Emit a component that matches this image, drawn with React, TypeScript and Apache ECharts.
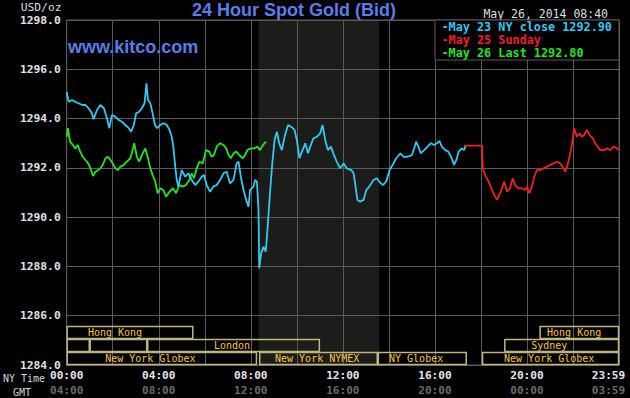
import React, { useEffect, useRef } from 'react';
import * as echarts from 'echarts';

// ---- data ----
const nyTickLabels = ['00:00', '04:00', '08:00', '12:00', '16:00', '20:00', '23:59'];
const gmtTickLabels = ['04:00', '08:00', '12:00', '16:00', '20:00', '00:00', '03:59'];
const yMin = 1284;
const yMax = 1298;

// [minute of NY day, price]
const may23Close: number[][] = [
  [0, 1295.08], [5, 1294.68], [14, 1294.75], [22, 1294.68], [31, 1294.62], [40, 1294.55], [49, 1294.55], [57, 1294.42],
  [66, 1294.21], [70, 1293.97], [79, 1294.35], [88, 1294.55], [97, 1294.42], [105, 1294.01], [111, 1293.61], [118, 1294.14],
  [127, 1294.08], [136, 1293.94], [144, 1293.87], [153, 1293.74], [162, 1293.61], [168, 1293.47], [175, 1293.74], [181, 1294.21],
  [189, 1294.28], [196, 1294.42], [203, 1294.62], [208, 1295.43], [212, 1294.75], [218, 1294.62], [224, 1294.21], [230, 1293.74],
  [236, 1293.61], [244, 1293.74], [252, 1293.81], [261, 1293.74], [268, 1293.54], [274, 1293.26], [278, 1292.86], [283, 1292.05],
  [287, 1291.51], [291, 1291.24], [300, 1291.91], [309, 1291.64], [317, 1291.78], [326, 1291.51], [335, 1291.30], [343, 1291.44],
  [352, 1291.64], [358, 1291.71], [365, 1291.30], [374, 1291.03], [382, 1291.24], [391, 1291.30], [400, 1291.51], [409, 1291.78],
  [417, 1291.84], [426, 1291.37], [435, 1291.51], [443, 1292.18], [448, 1292.25], [454, 1291.64], [461, 1291.10], [468, 1290.70],
  [474, 1290.42], [478, 1291.10], [487, 1291.24], [491, 1291.51], [496, 1291.44], [500, 1290.29], [502, 1287.92], [507, 1288.53],
  [513, 1288.80], [519, 1288.60], [524, 1289.61], [530, 1290.97], [536, 1292.18], [542, 1293.13], [548, 1293.47], [554, 1293.00],
  [561, 1292.72], [568, 1293.26], [577, 1293.74], [585, 1293.67], [594, 1293.54], [600, 1293.13], [607, 1292.39], [615, 1292.72],
  [622, 1293.00], [629, 1292.59], [635, 1292.86], [643, 1293.20], [652, 1293.26], [661, 1293.40], [667, 1293.74], [674, 1293.13],
  [681, 1292.72], [689, 1292.86], [695, 1292.59], [704, 1292.25], [713, 1291.98], [722, 1292.18], [730, 1291.98], [742, 1291.91],
  [748, 1291.78], [752, 1291.37], [758, 1290.70], [765, 1290.63], [774, 1290.70], [781, 1291.10], [789, 1291.24], [800, 1291.51],
  [809, 1291.58], [815, 1291.44], [824, 1291.30], [833, 1291.44], [842, 1291.91], [850, 1292.12], [859, 1292.39], [870, 1292.59],
  [878, 1292.45], [889, 1292.45], [900, 1292.52], [906, 1292.79], [911, 1293.06], [917, 1292.86], [923, 1292.59], [932, 1292.72],
  [941, 1292.86], [950, 1293.00], [958, 1292.93], [965, 1293.00], [972, 1293.09], [978, 1292.86], [987, 1292.72], [995, 1292.66],
  [1004, 1292.39], [1010, 1292.12], [1016, 1292.32], [1022, 1292.66], [1030, 1292.79], [1036, 1292.72], [1040, 1292.90],
];

const may25Sunday: number[][] = [
  [1036, 1292.90], [1083, 1292.90], [1085, 1291.98], [1091, 1291.71], [1100, 1291.44], [1109, 1291.10], [1117, 1290.83],
  [1122, 1290.70], [1130, 1290.97], [1141, 1291.44], [1148, 1291.03], [1156, 1291.17], [1163, 1291.58], [1169, 1291.30],
  [1178, 1291.17], [1187, 1291.17], [1196, 1291.10], [1200, 1291.24], [1206, 1290.97], [1213, 1291.24], [1219, 1291.64],
  [1226, 1291.91], [1235, 1291.91], [1243, 1291.98], [1252, 1292.05], [1261, 1292.12], [1269, 1292.18], [1278, 1292.25],
  [1287, 1292.18], [1295, 1291.98], [1300, 1291.84], [1306, 1292.12], [1313, 1292.59], [1319, 1293.13], [1323, 1293.61],
  [1330, 1293.26], [1337, 1293.40], [1343, 1293.26], [1349, 1293.33], [1356, 1293.54], [1363, 1293.33], [1372, 1293.20],
  [1378, 1293.00], [1384, 1292.86], [1391, 1292.72], [1400, 1292.72], [1409, 1292.79], [1417, 1292.72], [1426, 1292.86],
  [1435, 1292.79], [1439, 1292.72],
];

const may26Last: number[][] = [
  [0, 1293.26], [3, 1293.61], [9, 1293.06], [16, 1292.93], [22, 1292.79], [29, 1292.93], [35, 1292.66], [42, 1292.45],
  [49, 1292.32], [56, 1292.18], [62, 1291.98], [69, 1291.67], [75, 1291.84], [82, 1291.91], [88, 1291.98], [94, 1292.12],
  [101, 1292.39], [108, 1292.45], [114, 1292.32], [120, 1292.18], [127, 1291.98], [133, 1291.91], [140, 1292.05], [149, 1292.12],
  [157, 1292.25], [166, 1292.39], [172, 1292.72], [176, 1293.00], [183, 1292.45], [189, 1292.25], [196, 1292.52], [205, 1292.79],
  [212, 1292.39], [218, 1291.98], [224, 1291.71], [231, 1291.44], [237, 1290.97], [244, 1291.17], [252, 1291.10], [259, 1290.83],
  [268, 1291.03], [277, 1291.17], [285, 1290.97], [294, 1291.30], [302, 1291.24], [311, 1291.30], [320, 1291.51], [326, 1291.78],
  [332, 1291.58], [339, 1291.98], [346, 1292.25], [355, 1292.18], [363, 1292.72], [372, 1292.66], [378, 1292.45], [384, 1292.52],
  [391, 1292.86], [400, 1293.00], [409, 1292.93], [416, 1292.79], [422, 1292.52], [428, 1292.39], [435, 1292.59], [442, 1292.66],
  [450, 1292.52], [459, 1292.39], [465, 1292.52], [471, 1292.72], [480, 1292.79], [489, 1292.79], [497, 1292.86], [504, 1292.72],
  [512, 1292.93], [520, 1293.06],
];

const nymexFloor = [500, 815];

const sessionNames = ['Hong Kong', '', '', 'London', 'New York Globex', 'New York NYMEX', 'NY Globex', 'New York Globex', 'Sydney', 'Hong Kong'];
const sessionRows = [0, 1, 1, 1, 2, 2, 2, 2, 1, 0];
const sessionStart = [0, 0, 60, 210, 0, 502, 811, 1083, 1141, 1233];
const sessionEnd = [330, 60, 210, 660, 496, 811, 1043, 1440, 1440, 1440];
const sessionLabelAt = [126, 0, 0, 431, 218, 653, 911, 1258, 1258, 1323];

const legendTexts = ['-May 23 NY close 1292.90', '-May 25 Sunday', '-May 26 Last 1292.80'];
const legendColors = ['#33c8f2', '#ee2020', '#22e422'];

const MONO = '"DejaVu Sans Mono", monospace';
const GRID = '#5a5a5a';

export default function App() {
  const ref = useRef<HTMLDivElement>(null);
  useEffect(() => {
    if (!ref.current) return;
    const chart = echarts.init(ref.current, null, { renderer: 'svg' });
    const rowH = 13;
    const option: any = {
      animation: false,
      backgroundColor: '#000',
      grid: {
        left: 66.7, right: 11, top: 20, bottom: 33, show: true, borderColor: GRID, borderWidth: 1,
        containLabel: false, outerBoundsMode: 'none',
      },
      xAxis: {
        type: 'value', min: 0, max: 1440, interval: 120, z: 3,
        axisLine: { show: true, lineStyle: { color: GRID } },
        axisTick: { show: false },
        splitLine: { show: true, lineStyle: { color: GRID, width: 1 } },
        axisLabel: {
          margin: 3, hideOverlap: false,
          formatter: (v: number) => {
            if (v % 240 !== 0) return '';
            const i = v / 240;
            if (i === 6) return `{c|${nyTickLabels[i]}}\n{d|${gmtTickLabels[i]}}`;
            return `{a|${nyTickLabels[i]}}\n{b|${gmtTickLabels[i]}}`;
          },
          rich: {
            a: { color: '#e6e6e6', fontFamily: MONO, fontWeight: 'bold', fontSize: 11.1, lineHeight: 15 },
            b: { color: '#6a6a6a', fontFamily: MONO, fontWeight: 'bold', fontSize: 11.1, lineHeight: 15 },
            c: { color: '#e6e6e6', fontFamily: MONO, fontWeight: 'bold', fontSize: 11.1, lineHeight: 15, padding: [0, 21, 0, 0] },
            d: { color: '#6a6a6a', fontFamily: MONO, fontWeight: 'bold', fontSize: 11.1, lineHeight: 15, padding: [0, 21, 0, 0] },
          },
        },
      },
      yAxis: {
        type: 'value', min: yMin, max: yMax, interval: 2, z: 3,
        axisLine: { show: true, lineStyle: { color: GRID } },
        axisTick: { show: false },
        splitLine: { show: true, lineStyle: { color: GRID, width: 1 } },
        axisLabel: {
          margin: 6, color: '#e2e2e2', fontFamily: MONO, fontWeight: 'bold', fontSize: 11.3,
          formatter: (v: number) => v.toFixed(1),
        },
      },
      series: [
        {
          type: 'line', data: [], z: 1, silent: true,
          markArea: {
            silent: true,
            itemStyle: { color: '#1c1c1a' },
            data: [[{ xAxis: nymexFloor[0] }, { xAxis: nymexFloor[1] }]],
          },
        },
        {
          name: 'May 26', type: 'line', data: may26Last, z: 4, showSymbol: false, symbol: 'none',
          lineStyle: { color: legendColors[2], width: 1.8 },
        },
        {
          name: 'May 23', type: 'line', data: may23Close, z: 5, showSymbol: false, symbol: 'none',
          lineStyle: { color: legendColors[0], width: 1.8 },
        },
        {
          name: 'May 25', type: 'line', data: may25Sunday, z: 5, showSymbol: false, symbol: 'none',
          lineStyle: { color: legendColors[1], width: 1.8 },
        },
        {
          type: 'custom', z: 6, silent: true, clip: false,
          data: sessionStart.map((s) => [s, yMin]),
          renderItem: (params: any, api: any) => {
            const i = params.dataIndex;
            const a = api.coord([sessionStart[i], yMin]);
            const b = api.coord([sessionEnd[i], yMin]);
            const top = a[1] - (3 - sessionRows[i]) * rowH + 0.5;
            const children: any[] = [
              {
                type: 'rect',
                shape: { x: a[0] + 0.5, y: top, width: b[0] - a[0] - 1, height: rowH - 1 },
                style: { fill: 'none', stroke: '#bdb67f', lineWidth: 1.5 },
              },
            ];
            if (sessionNames[i]) {
              const c = api.coord([sessionLabelAt[i], yMin]);
              children.push({
                type: 'text',
                x: c[0], y: top + (rowH - 1) / 2,
                style: {
                  text: sessionNames[i], fill: '#f6c640', font: `10px ${MONO}`,
                  align: 'center', verticalAlign: 'middle', textAlign: 'center', textVerticalAlign: 'middle',
                },
              });
            }
            return { type: 'group', children };
          },
        },
      ],
      graphic: [
        {
          type: 'text', x: 294, y: 10, z: 10,
          style: { text: '24 Hour Spot Gold (Bid)', fill: '#5a7ee8', font: 'bold 18px "Liberation Sans", Arial, sans-serif', align: 'center', verticalAlign: 'middle', textAlign: 'center', textVerticalAlign: 'middle' },
        },
        {
          type: 'text', x: 68, y: 47, z: 10,
          style: { text: 'www.kitco.com', fill: '#5a7ee8', font: 'bold 18px "Liberation Sans", Arial, sans-serif', align: 'left', verticalAlign: 'middle', textAlign: 'left', textVerticalAlign: 'middle' },
        },
        {
          type: 'text', x: 608, y: 14, z: 10,
          style: { text: 'May 26, 2014 08:40', fill: '#dedede', font: `11.5px ${MONO}`, align: 'right', verticalAlign: 'middle', textAlign: 'right', textVerticalAlign: 'middle' },
        },
        {
          type: 'text', x: 61.5, y: 7, z: 10,
          style: { text: 'USD/oz', fill: '#dedede', font: `11.3px ${MONO}`, align: 'right', verticalAlign: 'middle', textAlign: 'right', textVerticalAlign: 'middle' },
        },
        {
          type: 'text', x: 3, y: 378, z: 10,
          style: { text: 'NY Time', fill: '#d6d6d6', font: `10px ${MONO}`, align: 'left', verticalAlign: 'middle', textAlign: 'left', textVerticalAlign: 'middle' },
        },
        {
          type: 'text', x: 22, y: 392, z: 10,
          style: { text: 'GMT', fill: '#d6d6d6', font: `10px ${MONO}`, align: 'center', verticalAlign: 'middle', textAlign: 'center', textVerticalAlign: 'middle' },
        },
        {
          type: 'rect', z: 10,
          shape: { x: 435, y: 20, width: 184, height: 40 },
          style: { fill: '#000', stroke: GRID, lineWidth: 1 },
        },
        ...legendTexts.map((t, i) => ({
          type: 'text', x: 441.5, y: [26.7, 39.5, 52.5][i], z: 11,
          style: { text: t, fill: legendColors[i], font: `bold 11.8px ${MONO}`, align: 'left', verticalAlign: 'middle', textAlign: 'left', textVerticalAlign: 'middle' },
        })),
      ],
    };
    chart.setOption(option);
    return () => chart.dispose();
  }, []);
  return <div ref={ref} style={{ position: 'fixed', left: 0, top: 0, width: 630, height: 398 }} />;
}
